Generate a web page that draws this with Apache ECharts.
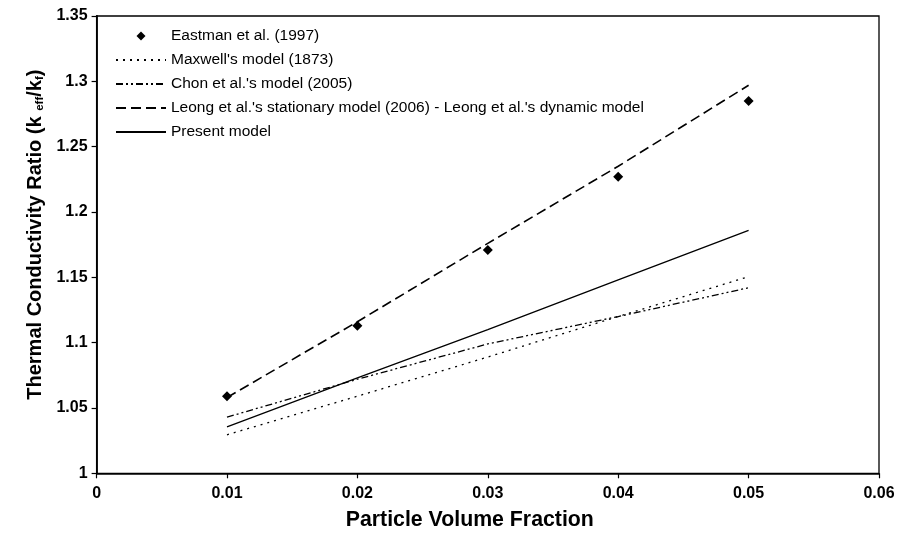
<!DOCTYPE html>
<html>
<head>
<meta charset="utf-8">
<script src="https://cdn.jsdelivr.net/npm/echarts@6/dist/echarts.min.js"></script>
<style>
  html, body { margin: 0; padding: 0; background: #fff; }
  #chart { width: 906px; height: 537px; }
</style>
</head>
<body>
<div id="chart"></div>
<script>
// Particle volume fractions at which each model is evaluated
const volumeFraction = [0.01, 0.02, 0.03, 0.04, 0.05];

// Thermal conductivity ratio k_eff / k_f
const eastman1997 = [1.059, 1.113, 1.171, 1.227, 1.285];
const maxwell1873 = [1.0295, 1.059, 1.089, 1.12, 1.1505];
const chon2005    = [1.043, 1.072, 1.099, 1.12, 1.142];
const leong2006   = [1.058, 1.116, 1.176, 1.235, 1.297];
const presentModel = [1.0355, 1.073, 1.11, 1.148, 1.186];

const seriesNames = [
  'Eastman et al. (1997)',
  "Maxwell's model (1873)",
  "Chon et al.'s model (2005)",
  "Leong et al.'s stationary model (2006) - Leong et al.'s dynamic model",
  'Present model'
];

const FONT = "'Liberation Sans', Arial, Helvetica, sans-serif";
const INK = '#000';

function pairs(ys) {
  return volumeFraction.map((x, i) => [x, ys[i]]);
}
function trimNum(v) {
  return String(parseFloat(v.toFixed(3)));
}

// line-only legend entries: hide the marker that line series add to their icon
function lineLegendItem(name) {
  return { name: name, itemStyle: { opacity: 0 } };
}

const chart = echarts.init(document.getElementById('chart'), null, { renderer: 'canvas' });

chart.setOption({
  animation: false,
  backgroundColor: '#fff',
  grid: {
    left: 96.6, right: 27, top: 16, bottom: 63.7,
    show: true, borderColor: INK, borderWidth: 1.3, backgroundColor: 'transparent'
  },
  legend: {
    orient: 'vertical',
    left: 110, top: 23,
    itemWidth: 50, itemHeight: 14, itemGap: 8,
    textStyle: { fontFamily: FONT, fontSize: 15.5, color: '#000' },
    data: [
      { name: seriesNames[0], icon: 'path://M0,0M14,14M7,2.5L11.5,7L7,11.5L2.5,7Z', itemStyle: { color: INK, opacity: 1 } },
      lineLegendItem(seriesNames[1]),
      lineLegendItem(seriesNames[2]),
      lineLegendItem(seriesNames[3]),
      lineLegendItem(seriesNames[4])
    ]
  },
  xAxis: {
    type: 'value', min: 0, max: 0.06, interval: 0.01,
    name: 'Particle Volume Fraction',
    nameLocation: 'middle', nameGap: 36,
    nameTextStyle: { fontFamily: FONT, fontSize: 21.3, fontWeight: 'bold', color: '#000', padding: [0, 36, 0, 0] },
    axisLine: { lineStyle: { color: INK, width: 1.5 } },
    axisTick: { show: true, inside: false, length: 5, lineStyle: { color: INK, width: 1.2 } },
    axisLabel: { fontFamily: FONT, fontSize: 16, fontWeight: 'bold', color: '#000', margin: 12, formatter: trimNum },
    splitLine: { show: false }
  },
  yAxis: {
    type: 'value', min: 1, max: 1.35, interval: 0.05,
    name: '{a|Thermal Conductivity Ratio (k }{s|eff}{a|/k}{s|f}{a|)}',
    nameLocation: 'middle', nameRotate: 90, nameGap: 48,
    nameTextStyle: {
      padding: [0, 0, 0, 20],
      rich: {
        a: { fontFamily: FONT, fontSize: 20, fontWeight: 'bold', color: '#000', lineHeight: 23, verticalAlign: 'bottom' },
        s: { fontFamily: FONT, fontSize: 11.5, fontWeight: 'bold', color: '#000', lineHeight: 10, verticalAlign: 'bottom' }
      }
    },
    axisLine: { lineStyle: { color: INK, width: 1.8 } },
    axisTick: { show: true, inside: false, length: 5, lineStyle: { color: INK, width: 1.2 } },
    axisLabel: { fontFamily: FONT, fontSize: 16, fontWeight: 'bold', color: '#000', margin: 9, formatter: trimNum },
    splitLine: { show: false }
  },
  series: [
    {
      name: seriesNames[1], type: 'line', data: pairs(maxwell1873),
      symbol: 'none', itemStyle: { color: INK }, lineStyle: { color: INK, width: 1.3, type: [2, 5] }
    },
    {
      name: seriesNames[2], type: 'line', data: pairs(chon2005),
      symbol: 'none', itemStyle: { color: INK }, lineStyle: { color: INK, width: 1.3, type: [7, 3, 2, 3, 2, 3] }
    },
    {
      name: seriesNames[3], type: 'line', data: pairs(leong2006),
      symbol: 'none', itemStyle: { color: INK }, lineStyle: { color: INK, width: 1.6, type: [10, 5] }
    },
    {
      name: seriesNames[4], type: 'line', data: pairs(presentModel),
      symbol: 'none', itemStyle: { color: INK }, lineStyle: { color: INK, width: 1.3, type: 'solid' }
    },
    {
      name: seriesNames[0], type: 'scatter', data: pairs(eastman1997),
      symbol: 'diamond', symbolSize: 10, itemStyle: { color: INK, opacity: 1 }, z: 5
    }
  ]
});
</script>
</body>
</html>
